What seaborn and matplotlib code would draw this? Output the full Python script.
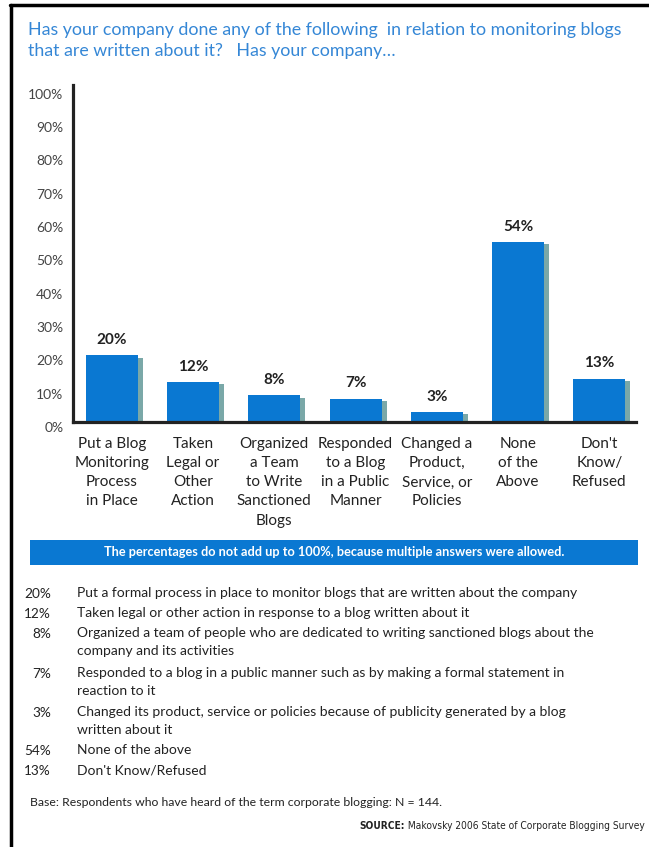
import matplotlib
matplotlib.use("Agg")
import matplotlib.pyplot as plt
import matplotlib.patheffects as pe
from matplotlib import font_manager
from matplotlib.transforms import ScaledTranslation
from matplotlib.patches import Rectangle
from matplotlib.lines import Line2D
import seaborn as sns
import pandas as pd

# ---- data -------------------------------------------------------------
categories = [
    "Put a Blog\nMonitoring\nProcess\nin Place",
    "Taken\nLegal or\nOther\nAction",
    "Organized\na Team\nto Write\nSanctioned\nBlogs",
    "Responded\nto a Blog\nin a Public\nManner",
    "Changed a\nProduct,\nService, or\nPolicies",
    "None\nof the\nAbove",
    "Don't\nKnow/\nRefused",
]
values = [20, 12, 8, 7, 3, 54, 13]
ytick_values = list(range(0, 101, 10))
ytick_labels = [f"{v}%" for v in ytick_values]

legend_pcts = ["20%", "12%", "8%", "7%", "3%", "54%", "13%"]
legend_texts = [
    "Put a formal process in place to monitor blogs that are written about the company",
    "Taken legal or other action in response to a blog written about it",
    "Organized a team of people who are dedicated to writing sanctioned blogs about the\ncompany and its activities",
    "Responded to a blog in a public manner such as by making a formal statement in\nreaction to it",
    "Changed its product, service or policies because of publicity generated by a blog\nwritten about it",
    "None of the above",
    "Don't Know/Refused",
]

title = ("Has your company done any of the following  in relation to monitoring blogs\n"
         "that are written about it?   Has your company\u2026")
banner = "The percentages do not add up to 100%, because multiple answers were allowed."
base_note = "Base: Respondents who have heard of the term corporate blogging: N = 144."
source_head = "SOURCE:"
source_body = " Makovsky 2006 State of Corporate Blogging Survey"

# ---- style ------------------------------------------------------------
sns.set_theme(style="white")
plt.rcParams["font.family"] = ["Lato", "DejaVu Sans"]

BLUE = "#0a78d2"
SHADOW = "#7aa8a8"
TITLE_BLUE = "#3587d6"
DARK = "#222222"

# narrow face for the source credit, if one is installed
_fonts = font_manager.fontManager.ttflist
if any(f.name == "Liberation Sans Narrow" for f in _fonts):
    src_font = dict(family=["Liberation Sans Narrow", "DejaVu Sans"], fontsize=8.3)
elif any(f.name == "DejaVu Sans" and f.stretch == "condensed" for f in _fonts):
    src_font = dict(family=["DejaVu Sans"], fontstretch="condensed", fontsize=7.3)
else:
    src_font = dict(family=["Lato", "DejaVu Sans"], fontsize=6.8)

W, H = 649, 847
fig = plt.figure(figsize=(W / 100, H / 100), dpi=100)
fig.patch.set_facecolor("white")

def fx(px):
    return px / W

def fy(py):
    return 1 - py / H

ax = fig.add_axes([fx(73), fy(422), fx(636) - fx(73), fy(85) - fy(422)])

df = pd.DataFrame({"category": categories, "value": values})
sns.barplot(data=df, x="category", y="value", color=BLUE, saturation=1,
            width=0.64, ax=ax, zorder=2)

shadow = [pe.SimplePatchShadow(offset=(3.6, -1.8), shadow_rgbFace=SHADOW, alpha=1.0),
          pe.Normal()]
for bar in ax.patches:
    bar.set_edgecolor("none")
    bar.set_path_effects(shadow)

for bar, v in zip(ax.patches, values):
    ax.annotate(f"{v}%", (bar.get_x() + bar.get_width() / 2, bar.get_height()),
                xytext=(0, 6), textcoords="offset points", ha="center", va="bottom",
                fontsize=11, fontweight="bold", color=DARK)

ax.set_xlim(-0.476, 6.45)
ax.set_ylim(0, 101.1)
ax.set_yticks(ytick_values)
ax.set_yticklabels(ytick_labels)
ax.set_xlabel("")
ax.set_ylabel("")

for side in ("top", "right"):
    ax.spines[side].set_visible(False)
for side in ("left", "bottom"):
    ax.spines[side].set_color(DARK)
    ax.spines[side].set_linewidth(2.3)
    ax.spines[side].set_zorder(5)

ax.tick_params(axis="y", length=0, pad=7, labelsize=10, labelcolor="#444444")
ax.tick_params(axis="x", length=0, pad=11, labelsize=11, labelcolor=DARK)
for lab in ax.get_yticklabels():
    lab.set_transform(lab.get_transform() + ScaledTranslation(0, -0.05, fig.dpi_scale_trans))
for lab in ax.get_xticklabels():
    lab.set_linespacing(1.46)
    lab.set_verticalalignment("top")

# ---- frame, title, banner, notes --------------------------------------
fig.add_artist(Line2D([fx(10), 1], [fy(5), fy(5)], color="black", lw=2.5))
fig.add_artist(Line2D([fx(11), fx(11)], [fy(5), 0], color="black", lw=2.5))

fig.text(fx(28), fy(22), title, ha="left", va="top", fontsize=12.8,
         color=TITLE_BLUE, linespacing=1.36)

fig.add_artist(Rectangle((fx(30), fy(565)), fx(638) - fx(30), fy(540) - fy(565),
                         facecolor=BLUE, edgecolor="none"))
fig.text(fx(334), fy(552), banner, ha="center", va="center", fontsize=9.2,
         fontweight="bold", color="white")

row_y = [594, 614, 634, 674, 713, 751, 771]
for pct, txt, y in zip(legend_pcts, legend_texts, row_y):
    fig.text(fx(51), fy(y), pct, ha="right", va="center", fontsize=9.8, color=DARK)
    fig.text(fx(77), fy(y - 7), txt, ha="left", va="top", fontsize=10,
             color=DARK, linespacing=1.55)

fig.text(fx(30), fy(802), base_note, ha="left", va="center", fontsize=8.8, color=DARK)
src = fig.text(fx(645), fy(826), source_body, ha="right", va="center",
               color=DARK, **src_font)
fig.canvas.draw()
bb = src.get_window_extent()
fig.text(bb.x0 / W, fy(826), source_head, ha="right", va="center",
         fontweight="bold", color=DARK, **src_font)

fig.savefig("out.png", dpi=100, facecolor="white")
